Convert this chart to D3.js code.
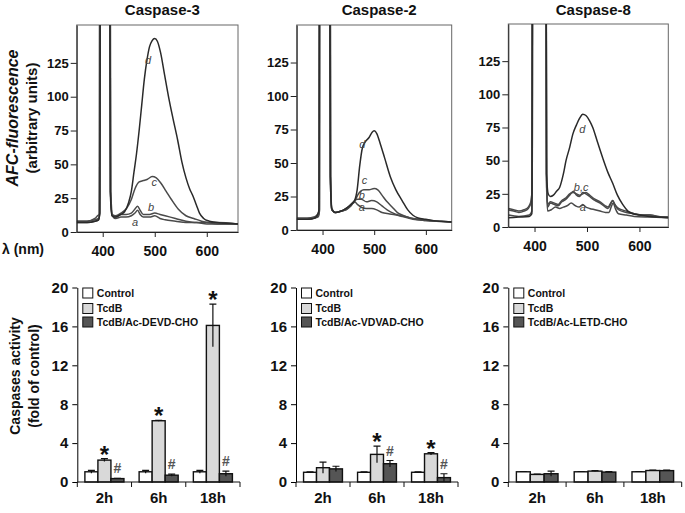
<html>
<head>
<meta charset="utf-8">
<script src='https://d3js.org/d3.v7.min.js'></script>
<style>
body {margin:0; background:white;}
svg text {font-family: "Liberation Sans", Arial, sans-serif; font-weight: bold; fill: #111;}
.curve {fill: none; stroke-width: 1.5;}
.lbl {font-style: italic; font-weight: normal; font-size: 11px; fill: #444;}
</style>
</head>
<body>
<svg width=685 height=513></svg>
<script>
// ---------- spectra data: [wavelength nm, AFC fluorescence] ----------
const specTicksX = [400, 500, 600];
const specTicksY = [0, 25, 50, 75, 100, 125];
const specTitles = ["Caspase-3", "Caspase-2", "Caspase-8"];

const casp3_a = [[350,7],[370,7],[385,8],[392,9],[394,14],[395.5,400],[413,400],[415,30],[418,12],[425,10],[435,11],[445,11],[455,12],[462,14],[467,16],[472,13],[478,11],[490,11],[500,12],[510,10],[520,9],[540,8],[560,7],[580,7],[600,6],[620,6],[640,6],[660,6]];
const casp3_b = [[350,8],[370,8],[385,10],[390,12],[393,13],[395,400],[413.5,400],[415.5,30],[419,12],[425,11],[435,13],[445,13],[455,14],[462,17],[467,19],[472,16],[478,13],[490,13],[500,14],[510,13],[520,12],[540,10],[560,8],[580,7],[600,7],[620,6],[660,6]];
const casp3_c = [[350,8],[370,8],[385,9],[392,10],[394,14],[395.5,400],[413,400],[415,30],[418,13],[425,12],[435,14],[445,17],[455,24],[462,32],[470,37],[478,38],[486,39],[495,41],[503,40],[512,36],[522,30],[532,24],[545,17],[560,12],[575,10],[590,8],[605,7],[620,7],[660,6]];
const casp3_d = [[350,7],[370,7],[385,8],[392,9],[394.5,14],[396,400],[412.5,400],[414.5,30],[418,12],[425,11],[435,13],[442,15],[450,22],[455,30],[460,44],[465,58],[470,75],[475,94],[480,113],[485,127],[490,137],[495,141.5],[500,143],[505,141],[511,133],[519,116],[527,99],[535,84],[544,68],[552,52],[560,40],[567,32],[573,27],[580,20],[586,14],[594,10],[605,8],[620,7],[660,6]];

const casp2_a = [[350,8],[370,8],[385,9],[392,10],[394,14],[395,400],[413,400],[415,40],[418,15],[425,13],[435,14],[445,15],[455,18],[462,21],[468,19],[475,17],[485,16],[495,16],[505,15],[515,13],[530,12],[545,11],[560,10],[580,8],[600,7],[650,6]];
const casp2_b = [[350,9],[370,9],[385,10],[391,12],[393.5,15],[394.5,400],[413.5,400],[415.5,40],[418,15],[425,13],[435,14],[445,16],[455,19],[462,22],[468,23],[475,23],[485,21],[495,22],[505,21],[515,18],[525,15],[540,12],[555,10],[575,8],[600,7],[650,6]];
const casp2_c = [[350,8],[370,8],[385,9],[392,11],[394,15],[395,400],[414,400],[416,40],[418,15],[425,13],[435,14],[445,15],[455,19],[462,21],[468,26],[474,29],[480,30],[490,30],[500,31],[507,30],[515,26],[525,21],[535,17],[545,13],[555,11],[570,9],[590,8],[610,7],[650,6]];
const casp2_d = [[350,8],[370,8],[385,9],[391,12],[393,15],[394.5,400],[413,400],[415,40],[418,16],[425,13],[435,14],[445,16],[455,19],[462,22],[467,30],[472,48],[477,61],[483,66],[490,69],[496,73],[500,74],[505,72],[512,64],[520,54],[531,40],[542,30],[554,22],[565,15],[575,11],[585,9],[600,8],[615,7],[630,6.5],[650,6]];

const casp8_a = [[350,9],[370,8],[390,9],[395,12],[397,400],[421,400],[423,30],[425,12],[432,13],[440,15],[448,14],[455,15],[462,16],[470,18],[478,16],[485,15],[492,17],[498,15],[505,14],[515,13],[525,12],[535,11],[542,11],[546,15],[550,18],[554,14],[560,10],[575,9],[590,8],[620,7.5],[655,7]];
const casp8_b = [[350,13],[360,12],[370,11],[380,12],[388,14],[393,18],[395.5,30],[397,400],[421,400],[423,40],[425,15],[430,18],[438,17],[445,16],[452,19],[460,21],[467,24],[474,27],[480,24],[486,23],[492,26],[498,25],[505,23],[515,20],[525,18],[535,15],[540,14],[545,17],[549,20],[553,17],[560,13],[575,11],[590,10],[605,9],[620,9],[635,8],[655,7.5]];
const casp8_c = [[350,14],[360,13],[370,12],[380,13],[388,15],[393,19],[395.5,30],[397.5,400],[420.5,400],[422.5,40],[425,17],[430,19],[438,18],[445,17],[452,20],[460,22],[467,25],[474,26],[480,25],[486,24],[492,25],[498,26],[505,24],[515,21],[525,19],[535,16],[540,15],[545,18],[549,20],[553,17],[560,14],[575,12],[590,10],[605,9],[620,9],[635,8],[655,7.5]];
const casp8_d = [[350,7],[370,7.5],[390,8],[395,10],[396.5,400],[421.5,400],[423,40],[426,25],[430,23],[436,24],[442,27],[448,30],[455,40],[460,50],[467,60],[473,70],[480,77],[486,82],[492,85],[498,84],[505,80],[511,75],[520,64],[530,52],[540,41],[549,33],[558,24],[568,17],[578,12],[587,10],[600,9],[619,8],[635,7.5],[655,7]];

// curve labels: [text, nm, value]
const casp3_labels = [["d",487,127],["c",499,37],["b",493,18],["a",462,7]];
const casp2_labels = [["d",477,64],["c",481,37],["b",476,26],["a",476,17]];
const casp8_labels = [["d",491,74],["b,c",489,30],["a",492,15]];

// ---------- bar data: caspase activity (fold of control) ----------
const times = ["2h", "6h", "18h"];
const series = ["Control", "TcdB"];
const inhibitors = ["TcdB/Ac-DEVD-CHO", "TcdB/Ac-VDVAD-CHO", "TcdB/Ac-LETD-CHO"];
const barTicks = [0, 4, 8, 12, 16, 20];

const casp3_control = [1.05, 1.05, 1.05];
const casp3_control_err = [0.15, 0.15, 0.15];
const casp3_tcdb = [2.25, 6.3, 16.1];
const casp3_tcdb_err = [0.15, 0.05, 2.2];
const casp3_inhib = [0.35, 0.7, 0.85];
const casp3_inhib_err = [0.03, 0.1, 0.27];
const casp3_star = [true, true, true];
const casp3_hash = [true, true, true];

const casp2_control = [1.0, 1.0, 1.0];
const casp2_control_err = [0.05, 0.05, 0.05];
const casp2_tcdb = [1.47, 2.84, 2.9];
const casp2_tcdb_err = [0.58, 0.85, 0.12];
const casp2_inhib = [1.35, 1.88, 0.45];
const casp2_inhib_err = [0.27, 0.33, 0.4];
const casp2_star = [false, true, true];
const casp2_hash = [false, true, true];

const casp8_control = [1.05, 1.05, 1.05];
const casp8_control_err = [0.03, 0.03, 0.03];
const casp8_tcdb = [0.78, 1.12, 1.18];
const casp8_tcdb_err = [0.03, 0.05, 0.05];
const casp8_inhib = [0.85, 1.02, 1.17];
const casp8_inhib_err = [0.27, 0.04, 0.05];
const casp8_star = [false, false, false];
const casp8_hash = [false, false, false];

const barFill = ["#ffffff", "#d9d9d9", "#555555"];

// ---------- drawing ----------
const svg = d3.select("svg");

const specPanels = [
  {title: specTitles[0], curves: [casp3_a, casp3_b, casp3_c, casp3_d], labels: casp3_labels, l: 76.7, r: 238, t: 25, b: 232, xmax: 660},
  {title: specTitles[1], curves: [casp2_a, casp2_b, casp2_c, casp2_d], labels: casp2_labels, l: 296.7, r: 451.7, t: 25, b: 230, xmax: 650},
  {title: specTitles[2], curves: [casp8_a, casp8_b, casp8_c, casp8_d], labels: casp8_labels, l: 508.3, r: 668.3, t: 24, b: 227, xmax: 655}
];

specPanels.forEach(function(p, i) {
  var x = d3.scaleLinear().domain([350, p.xmax]).range([p.l, p.r]);
  var y = d3.scaleLinear().domain([0, 153]).range([p.b, p.t]);

  svg.append("clipPath").attr("id", "clip" + i)
    .append("rect").attr("x", p.l).attr("y", p.t).attr("width", p.r - p.l).attr("height", p.b - p.t);

  svg.append("rect")
    .attr("x", p.l).attr("y", p.t).attr("width", p.r - p.l).attr("height", p.b - p.t)
    .attr("fill", "none").attr("stroke", "#666").attr("stroke-width", 1);

  var line = d3.line().x(d => x(d[0])).y(d => y(d[1])).curve(d3.curveMonotoneX);
  svg.append("g").attr("clip-path", "url(#clip" + i + ")")
    .selectAll("path").data(p.curves).enter().append("path")
    .attr("class", "curve")
    .attr("stroke", (d, j) => j == 3 ? "#2a2a2a" : "#4a4a4a")
    .attr("d", line);

  svg.append("g").selectAll("text").data(p.labels).enter().append("text")
    .attr("class", "lbl")
    .attr("x", d => x(d[1])).attr("y", d => y(d[2]))
    .attr("text-anchor", "middle").attr("dy", "0.35em")
    .text(d => d[0]);

  var ga = svg.append("g").attr("transform", "translate(0," + p.b + ")")
    .call(d3.axisBottom(x).tickValues(specTicksX).tickSize(5).tickSizeOuter(0).tickPadding(9));
  ga.selectAll("text").style("font-size", "14px");
  var gy = svg.append("g").attr("transform", "translate(" + p.l + ",0)")
    .call(d3.axisLeft(y).tickValues(specTicksY).tickSize(6).tickSizeOuter(0).tickPadding(2));
  gy.selectAll("text").style("font-size", "13px");
  svg.selectAll(".domain, .tick line").attr("stroke", "#222");

  svg.append("text").attr("x", (p.l + p.r) / 2 + 5).attr("y", 15)
    .attr("text-anchor", "middle").style("font-size", "15px").text(p.title);
});

svg.append("text").attr("transform", "translate(18,118) rotate(-90)")
  .attr("text-anchor", "middle").style("font-size", "16px").style("font-style", "italic")
  .text("AFC-fluorescence");
svg.append("text").attr("transform", "translate(37,118) rotate(-90)")
  .attr("text-anchor", "middle").style("font-size", "15px")
  .text("(arbitrary units)");
svg.append("text").attr("x", 2).attr("y", 254).style("font-size", "14px").text("λ (nm)");

// bar panels
const barPanels = [
  {control: casp3_control, ce: casp3_control_err, tcdb: casp3_tcdb, te: casp3_tcdb_err, inhib: casp3_inhib, ie: casp3_inhib_err, star: casp3_star, hash: casp3_hash, name: inhibitors[0], l: 77.3, r: 240},
  {control: casp2_control, ce: casp2_control_err, tcdb: casp2_tcdb, te: casp2_tcdb_err, inhib: casp2_inhib, ie: casp2_inhib_err, star: casp2_star, hash: casp2_hash, name: inhibitors[1], l: 296, r: 458},
  {control: casp8_control, ce: casp8_control_err, tcdb: casp8_tcdb, te: casp8_tcdb_err, inhib: casp8_inhib, ie: casp8_inhib_err, star: casp8_star, hash: casp8_hash, name: inhibitors[2], l: 508.3, r: 681.7}
];

barPanels.forEach(function(p) {
  var x0 = d3.scaleBand().domain(times).range([p.l, p.r]);
  var bw = x0.bandwidth();
  var x1 = d3.scaleBand().domain([0, 1, 2]).range([bw * 0.14, bw * 0.86]);
  var y = d3.scaleLinear().domain([0, 20]).range([482, 287.5]);

  var rows = [];
  times.forEach(function(t, i) {
    rows.push({t: t, s: 0, v: p.control[i], e: p.ce[i], mark: null});
    rows.push({t: t, s: 1, v: p.tcdb[i], e: p.te[i], mark: p.star[i] ? "*" : null});
    rows.push({t: t, s: 2, v: p.inhib[i], e: p.ie[i], mark: p.hash[i] ? "#" : null});
  });

  var g = svg.append("g");
  g.selectAll("rect").data(rows).enter().append("rect")
    .attr("x", d => x0(d.t) + x1(d.s)).attr("width", x1.bandwidth())
    .attr("y", d => y(d.v)).attr("height", d => y(0) - y(d.v))
    .attr("fill", d => barFill[d.s]).attr("stroke", "#111").attr("stroke-width", 1.4);

  var cx = d => x0(d.t) + x1(d.s) + x1.bandwidth() / 2;
  g.selectAll(".err").data(rows).enter().append("path")
    .attr("fill", "none").attr("stroke", "#111").attr("stroke-width", 1.2)
    .attr("d", d => "M" + cx(d) + "," + y(d.v - d.e) + "V" + y(d.v + d.e) +
      "M" + (cx(d) - 3.5) + "," + y(d.v + d.e) + "H" + (cx(d) + 3.5));

  g.selectAll(".mark").data(rows.filter(d => d.mark)).enter().append("text")
    .attr("x", cx)
    .attr("y", d => d.mark == "*" ? y(d.v + d.e) + 4 : y(d.v + d.e) - 5)
    .attr("text-anchor", "middle")
    .style("font-size", d => d.mark == "*" ? "24px" : "14px")
    .style("fill", d => d.mark == "*" ? "#111" : "#555")
    .text(d => d.mark);

  // axes
  var gy = svg.append("g").attr("transform", "translate(" + p.l + ",0)")
    .call(d3.axisLeft(y).tickValues(barTicks).tickSize(5).tickSizeOuter(0).tickPadding(4));
  gy.selectAll("text").style("font-size", "15px");
  svg.append("path").attr("stroke", "#111").attr("fill", "none")
    .attr("d", "M" + p.l + ",482H" + p.r);
  svg.append("g").selectAll("line").data(times.map(t => x0(t)).concat([p.r])).enter().append("line")
    .attr("x1", d => d).attr("x2", d => d).attr("y1", 482).attr("y2", 487).attr("stroke", "#111");
  var gx = svg.append("g").attr("transform", "translate(0,482)")
    .call(d3.axisBottom(x0).tickSize(0).tickPadding(10));
  gx.select(".domain").remove();
  gx.selectAll("text").style("font-size", "15px");

  // legend
  var leg = svg.append("g").selectAll("g").data([series[0], series[1], p.name]).enter().append("g")
    .attr("transform", (d, i) => "translate(" + (p.l + 5.5) + "," + [293, 308.5, 322][i] + ")");
  leg.append("rect").attr("x", 0).attr("y", -5).attr("width", 10).attr("height", 10)
    .attr("fill", (d, i) => barFill[i]).attr("stroke", "#111");
  leg.append("text").attr("x", 14).attr("dy", "0.35em").style("font-size", "10.5px").text(d => d);
});

svg.append("text").attr("transform", "translate(20,376) rotate(-90)")
  .attr("text-anchor", "middle").style("font-size", "14px").text("Caspases activity");
svg.append("text").attr("transform", "translate(39,376) rotate(-90)")
  .attr("text-anchor", "middle").style("font-size", "14px").text("(fold of control)");
</script>
</body>
</html>
